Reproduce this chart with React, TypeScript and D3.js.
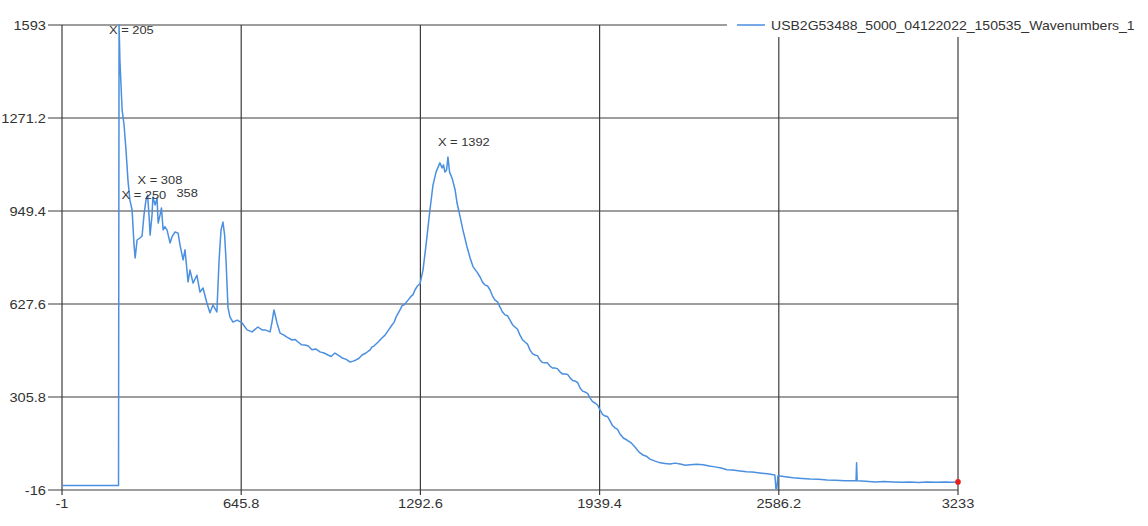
import React from 'react';
import * as d3 from 'd3';

// wavenumber index and counts
const waveX = [
  0, 201, 203, 205, 208, 216, 223, 230, 237, 244,
  252, 259, 263, 270, 280, 288, 295, 302, 308, 313,
  317, 324, 327, 335, 342, 346, 353, 358, 364, 370,
  378, 389, 396, 407, 418, 425, 436, 443, 454, 461,
  472, 486, 497, 508, 522, 533, 544, 558, 566, 573,
  580, 586, 591, 598, 605, 616, 631, 649, 667, 685,
  706, 721, 732, 750, 757, 764, 771, 775, 786, 800,
  811, 829, 840, 851, 863, 876, 888, 901, 915, 930,
  945, 959, 970, 984, 1000, 1010, 1025, 1038, 1050, 1060,
  1070, 1082, 1096, 1111, 1118, 1125, 1140, 1152, 1165, 1178,
  1190, 1198, 1205, 1219, 1226, 1234, 1248, 1260, 1266, 1273,
  1282, 1291, 1302, 1313, 1327, 1338, 1349, 1363, 1371, 1376,
  1381, 1387, 1392, 1398, 1407, 1418, 1425, 1436, 1446, 1461,
  1472, 1483, 1497, 1508, 1517, 1526, 1535, 1544, 1553, 1562,
  1571, 1580, 1589, 1598, 1607, 1616, 1625, 1634, 1643, 1652,
  1661, 1670, 1679, 1688, 1697, 1706, 1715, 1724, 1733, 1742,
  1751, 1760, 1769, 1778, 1787, 1797, 1806, 1815, 1824, 1833,
  1842, 1851, 1860, 1869, 1878, 1887, 1896, 1905, 1914, 1923,
  1932, 1941, 1950, 1959, 1968, 1977, 1986, 1995, 2004, 2013,
  2025, 2038, 2052, 2067, 2081, 2096, 2108, 2121, 2140, 2158,
  2175, 2194, 2212, 2230, 2250, 2266, 2290, 2313, 2335, 2356,
  2378, 2399, 2420, 2446, 2470, 2490, 2518, 2545, 2572, 2576,
  2579, 2583, 2610, 2637, 2670, 2699, 2730, 2760, 2790, 2825,
  2865, 2867, 2869, 2900, 2933, 2965, 2998, 3030, 3060, 3090,
  3121, 3155, 3186, 3210, 3233,
];
const counts = [
  0, 0, 0, 1593, 1472, 1299, 1247, 1160, 1057, 987,
  953, 832, 787, 849, 856, 863, 936, 987, 1005, 936,
  866, 936, 998, 970, 994, 908, 936, 960, 884, 895,
  884, 839, 860, 877, 873, 832, 780, 815, 704, 745,
  700, 727, 669, 683, 631, 597, 624, 600, 780, 884,
  911, 866, 780, 617, 583, 565, 572, 562, 538, 531,
  548, 538, 538, 531, 565, 607, 579, 562, 527, 520,
  513, 503, 505, 496, 487, 486, 482, 469, 472, 462,
  458, 451, 446, 458, 448, 441, 436, 427, 430, 434,
  439, 451, 458, 469, 479, 482, 496, 508, 520, 538,
  555, 565, 583, 607, 621, 625, 641, 655, 660, 676,
  690, 697, 745, 832, 953, 1039, 1084, 1116, 1098, 1109,
  1084, 1091, 1136, 1084, 1063, 1022, 977, 929, 884, 825,
  787, 756, 738, 721, 703, 693, 690, 676, 655, 641,
  635, 617, 600, 590, 587, 572, 556, 548, 540, 520,
  504, 496, 489, 469, 456, 451, 449, 434, 425, 424,
  424, 413, 406, 406, 404, 392, 385, 385, 384, 372,
  363, 361, 356, 337, 326, 323, 318, 302, 290, 285,
  278, 261, 246, 240, 238, 223, 207, 199, 194, 178,
  164, 157, 148, 133, 116, 105, 101, 91, 84, 78,
  76, 74, 77, 74, 70, 71, 73, 71, 67, 64,
  60, 54, 53, 50, 47, 46, 43, 40, 36, -12,
  -12, 33, 30, 26, 24, 22, 21, 19, 18, 16,
  16, 78, 16, 14, 12, 13, 12, 11, 12, 10,
  12, 11, 12, 11, 12,
];

const xTicks = [-1, 645.8, 1292.6, 1939.4, 2586.2, 3233];
const yTicks = [-16, 305.8, 627.6, 949.4, 1271.2, 1593];
const peakX = [205, 1392, 358, 308, 250];
// the 358 label sits under the 250 one, only its number shows
const peakHidePrefix = [false, false, true, false, false];
const seriesName = 'USB2G53488_5000_04122022_150535_Wavenumbers_1';

const W = 1148;
const H = 526;
const left = 62;
const right = 958;
const top = 25;
const bottom = 490;
const gridColor = '#3c3c3c';
const lineColor = '#4a8fe0';
const font = 'Liberation Sans, Arial, sans-serif';

const App = () => {
  const x = d3.scaleLinear().domain([-1, 3233]).range([left, right]);
  const y = d3.scaleLinear().domain([-16, 1593]).range([bottom, top]);

  const pts = waveX.map((v, i) => [v, counts[i]] as [number, number]);
  const path = d3.line<[number, number]>()
    .x(d => x(d[0]))
    .y(d => y(d[1]))(pts) || '';

  const valueAt = (wx: number) => {
    let best = 0;
    waveX.forEach((v, i) => {
      if (Math.abs(v - wx) < Math.abs(waveX[best] - wx)) best = i;
    });
    return counts[best];
  };

  const last = pts[pts.length - 1];

  return (
    <svg width={W} height={H} style={{ position: 'absolute', left: 0, top: 0, background: '#fff' }}>
      {/* horizontal grid + y ticks */}
      {yTicks.map(t => (
        <g key={'y' + t}>
          <line x1={48} x2={right} y1={y(t)} y2={y(t)} stroke={gridColor} strokeWidth={1.2} />
          <text
            transform={`translate(46,${y(t) + 4.5}) scale(1.22,1)`}
            textAnchor="end"
            fontFamily={font}
            fontSize={12}
            fill="#333"
          >
            {t}
          </text>
        </g>
      ))}
      {/* vertical grid + x ticks */}
      {xTicks.map(t => (
        <g key={'x' + t}>
          <line x1={x(t)} x2={x(t)} y1={top} y2={bottom + 5} stroke={gridColor} strokeWidth={1.2} />
          <text
            transform={`translate(${x(t)},${bottom + 18}) scale(1.22,1)`}
            textAnchor="middle"
            fontFamily={font}
            fontSize={12}
            fill="#333"
          >
            {t}
          </text>
        </g>
      ))}

      <path d={path} fill="none" stroke={lineColor} strokeWidth={1.5} strokeLinejoin="round" />
      <circle cx={x(last[0])} cy={y(last[1])} r={2.8} fill="#e8201c" />

      {/* peak labels */}
      {peakX.map((p, i) => {
        const lx = x(p) - 10 + (peakHidePrefix[i] ? 25 : 0);
        const ly = Math.max(y(valueAt(p)) - 15, top + 5);
        const label = peakHidePrefix[i] ? `${p}` : `X = ${p}`;
        return (
          <text
            key={'p' + p}
            transform={`translate(${lx},${ly + 4}) scale(1.12,1)`}
            fontFamily={font}
            fontSize={11.5}
            fill="#333"
          >
            {label}
          </text>
        );
      })}

      {/* legend */}
      <rect x={727} y={10} width={W - 727} height={27} fill="#fff" />
      <line x1={737} x2={765} y1={25} y2={25} stroke={lineColor} strokeWidth={1.5} />
      <text
        transform="translate(771,29.5) scale(1.17,1)"
        fontFamily={font}
        fontSize={12}
        fill="#333"
      >
        {seriesName}
      </text>
    </svg>
  );
};

export default App;
